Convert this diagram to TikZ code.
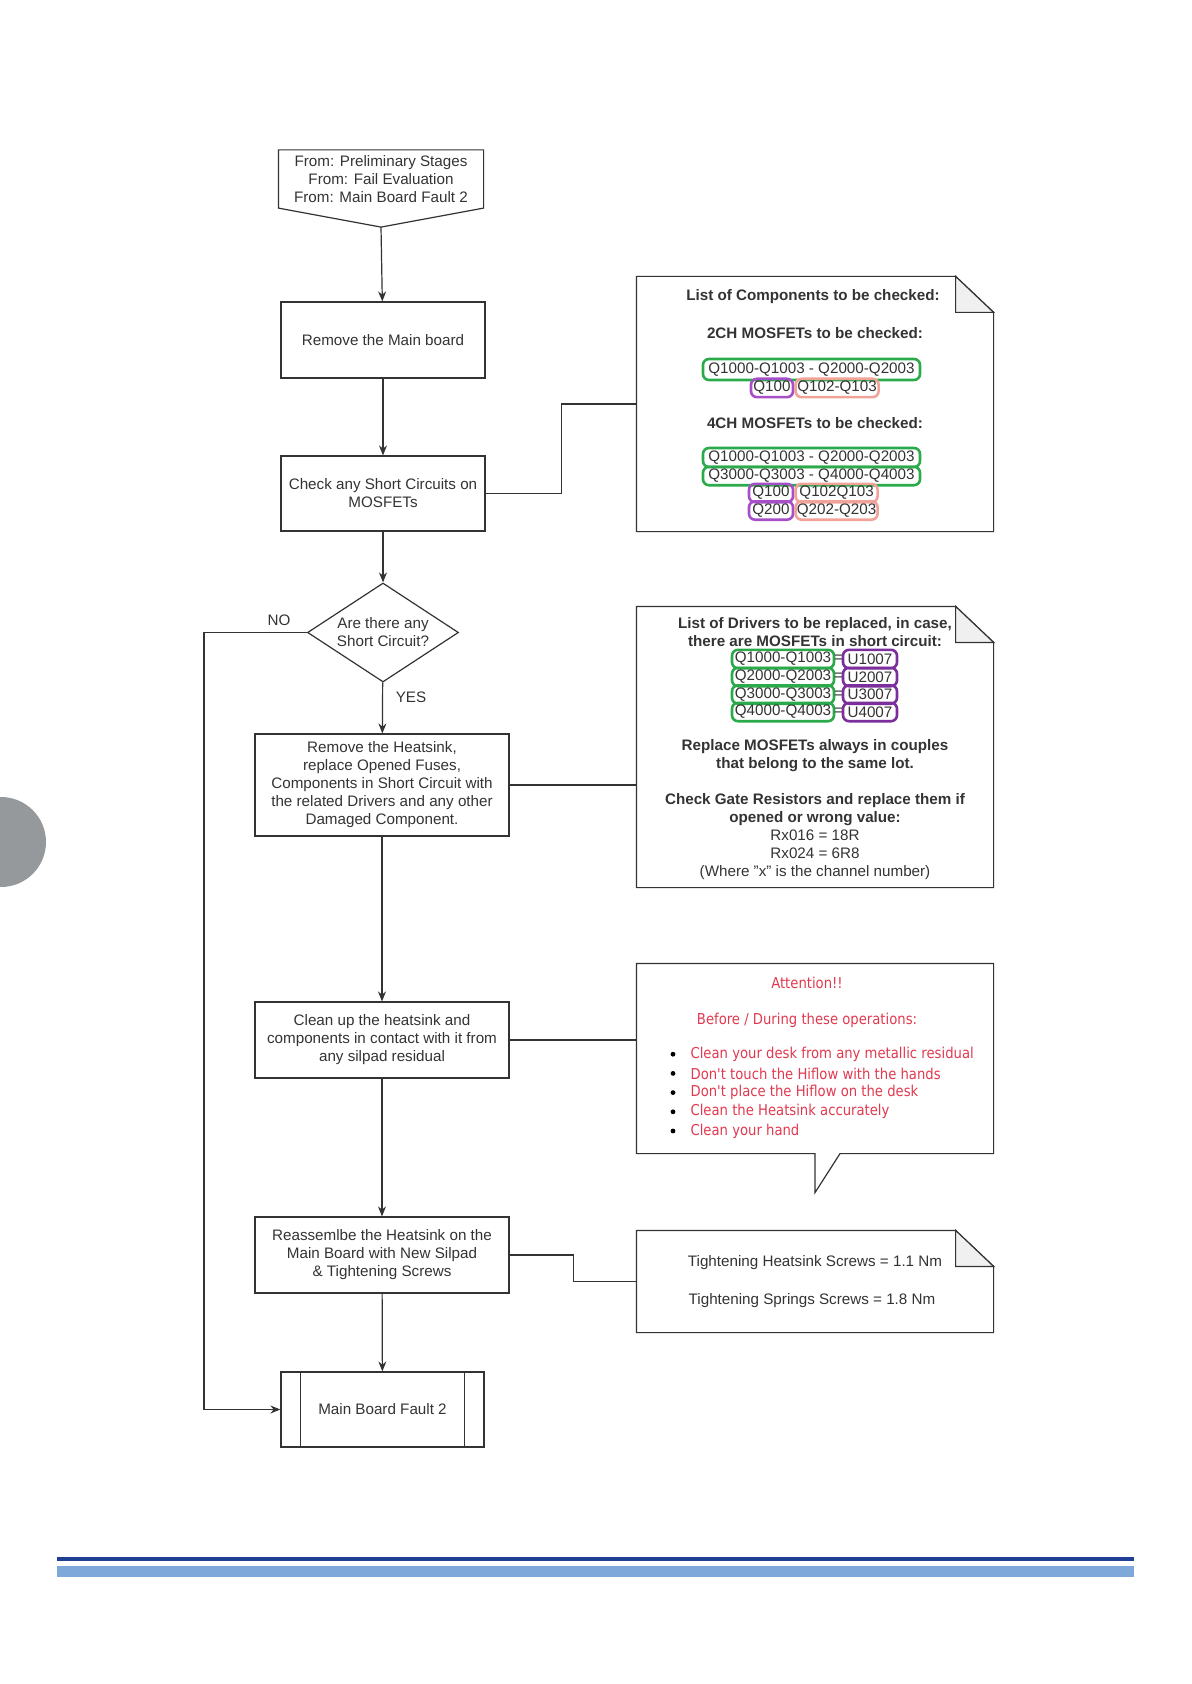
\documentclass[tikz,border=0pt]{standalone}
\usepackage{fontspec}
\setmainfont{Liberation Sans}
\newfontfamily\avisofont[FakeStretch=0.88]{DejaVu Sans}
\usetikzlibrary{shapes.geometric,positioning,arrows.meta}
\definecolor{gristexto}{HTML}{333333}
\definecolor{verde}{HTML}{2AAA4A}
\definecolor{morado}{HTML}{A64FC9}
\definecolor{moradooscuro}{HTML}{7B2E9C}
\definecolor{salmon}{HTML}{F2A399}
\definecolor{rojo}{HTML}{E0394F}
\definecolor{azuloscuro}{HTML}{1E3F94}
\definecolor{azulclaro}{HTML}{7EA8D9}
\definecolor{grismarca}{HTML}{95999C}
\begin{document}
\begin{tikzpicture}[   % opciones por defecto
      x=0.5pt, y=-0.5pt,     % un pixel de la hoja = 0.5pt
      >={Stealth[length=5pt,width=4pt]}, % estilo de flecha
      color=gristexto,       % lineas y texto gris oscuro
      line width=0.6pt,
      font=\fontsize{7.6}{9}\selectfont
    ]
    \tikzstyle{paso}=[draw, align=center, minimum height=38pt, inner sep=2pt];
    \tikzstyle{nota}=[minimum width=178pt, inner sep=0pt];
    \tikzstyle{titulo}=[align=center, font=\fontsize{7.6}{9}\selectfont\bfseries];
    \tikzstyle{lista}=[draw=verde, line width=1.3pt, rounded corners=3pt, inner sep=0pt, minimum height=9.2pt];
    \tikzstyle{rojo}=[text=rojo, font=\avisofont\fontsize{7.5}{9.6}\selectfont];
    %
    \useasboundingbox (0,0) rectangle (1191,1684);
    %
    % marca gris del margen
    \fill[grismarca] (1,842) circle (22.5pt);
    %
    % lineas azules del pie
    \fill[azuloscuro] (57,1557) rectangle (1134,1561);
    \fill[azulclaro] (57,1566) rectangle (1134,1577);
    %
    % conector de entrada
    \node [inner sep=0pt, minimum width=102pt, minimum height=28.5pt, align=center] (inicio) at (381,179)
      {From: Preliminary Stages\\From: Fail Evaluation\\From: Main Board Fault 2};
    \draw (inicio.north west) -- (inicio.north east) -- (inicio.south east)
      -- ([yshift=-9.5pt]inicio.south) -- (inicio.south west) -- cycle;
    \coordinate (punta) at ([yshift=-9.5pt]inicio.south);
    %
    % pasos
    \node [paso, minimum width=102pt] (placa) at (383,340) {Remove the Main board};
    \node [paso, minimum width=102pt, minimum height=37.5pt] (corto) at (383,493.5) {Check any Short Circuits on\\MOSFETs};
    \node [draw, diamond, aspect=1.5, minimum width=75.5pt, minimum height=49.5pt, inner sep=0pt, align=center]
      (decision) at (383,632.5) {Are there any\\Short Circuit?};
    \node [paso, minimum width=127pt, minimum height=51pt] (disipador) at (382,785)
      {Remove the Heatsink,\\replace Opened Fuses,\\Components in Short Circuit with\\the related Drivers and any other\\Damaged Component.};
    \node [paso, minimum width=127pt] (limpieza) at (382,1040)
      {Clean up the heatsink and\\components in contact with it from\\any silpad residual};
    \node [paso, minimum width=127pt] (montaje) at (382,1255)
      {Reassemlbe the Heatsink on the\\Main Board with New Silpad\\\& Tightening Screws};
    \node [paso, minimum width=101.5pt, minimum height=37.5pt] (fin) at (382.5,1409.5) {Main Board Fault 2};
    \draw ([xshift=10pt]fin.north west) -- ([xshift=10pt]fin.south west);
    \draw ([xshift=-10pt]fin.north east) -- ([xshift=-10pt]fin.south east);
    %
    % flechas del flujo
    \draw[->] (punta) -- (placa);
    \draw[->] (placa) -- (corto);
    \draw[->] (corto) -- (decision);
    \draw[->] (decision) -- (disipador) node [pos=0.3, right=3pt] {YES};
    \draw[->] (disipador) -- (limpieza);
    \draw[->] (limpieza) -- (montaje);
    \draw[->] (montaje) -- (fin);
    \draw[->] (decision.west) -- ++(-103,0) node [pos=0.27, above] {NO} |- (fin.west);
    %
    % notas
    \node [nota, minimum height=127pt] (componentes) at (815,404) {};
    \node [nota, minimum height=140pt] (drivers) at (815,747) {};
    \node [nota, minimum height=94.5pt] (aviso) at (815,1058.5) {};
    \node [nota, minimum height=50.5pt] (apriete) at (815,1281.5) {};
    \foreach \n in {componentes,drivers,apriete} {
      \draw (\n.north west) -- ([xshift=-19pt]\n.north east) -- ([yshift=-18pt]\n.north east)
        -- (\n.south east) -- (\n.south west) -- cycle;
      \draw[fill=gray!12] ([xshift=-19pt]\n.north east) -- ([xshift=-19pt,yshift=-18pt]\n.north east)
        -- ([yshift=-18pt]\n.north east) -- cycle;
    }
    \draw (aviso.north west) -- (aviso.north east) -- (aviso.south east) -- ([xshift=12.5pt]aviso.south)
      -- ([yshift=-19.5pt]aviso.south) -- (aviso.south) -- (aviso.south west) -- cycle;
    %
    % lineas a las notas
    \draw (corto.east) -- ++(76,0) |- (componentes.west);
    \draw (disipador.east) -- (disipador.east -| drivers.west);
    \draw (limpieza.east) -- (limpieza.east -| aviso.west);
    \draw (montaje.east) -- ++(64,0) |- (apriete.west);
    %
    % lista de componentes
    \node [titulo] (tit1) at (813,297) {List of Components to be checked:};
    \node [titulo] (ch2) at (815,333) {2CH MOSFETs to be checked:};
    \node [lista, minimum width=108.5pt, minimum height=10.5pt] (g1) at (811.5,369.5) {Q1000-Q1003 - Q2000-Q2003};
    \node [lista, draw=morado, minimum width=21pt] (p1) at (772,388) {Q100};
    \node [lista, draw=salmon, minimum width=41.5pt, right=0pt of p1] (s1) {Q102-Q103};
    \node [titulo] (ch4) at (815,423) {4CH MOSFETs to be checked:};
    \node [lista, minimum width=108.5pt, minimum height=9.5pt] (g2) at (811.5,457.5) {Q1000-Q1003 - Q2000-Q2003};
    \node [lista, minimum width=108.5pt] (g3) at (811.5,476) {Q3000-Q3003 - Q4000-Q4003};
    \node [lista, draw=morado, minimum width=22pt] (p2) at (771,493) {Q100};
    \node [lista, draw=salmon, minimum width=41pt, right=0pt of p2] (s2) {Q102Q103};
    \node [lista, draw=morado, minimum width=22pt] (p3) at (771,510.5) {Q200};
    \node [lista, draw=salmon, minimum width=41pt, right=0pt of p3] (s3) {Q202-Q203};
    %
    % lista de drivers
    \node [titulo] (tit2) at (815,632) {List of Drivers to be replaced, in case,\\there are MOSFETs in short circuit:};
    \foreach \i/\y in {1/659,2/677,3/694.5,4/712} {
      \node [lista, minimum width=51pt] (q\i) at (783,\y) {Q\i000-Q\i003};
      \node [inner sep=0pt] (igual\i) at (838.5,\y) {=};
      \node [lista, draw=moradooscuro, minimum width=27pt] (u\i) at (870,\y) {U\i007};
    }
    \node [titulo] (lote) at (815,755.5) {Replace MOSFETs always in couples\\that belong to the same lot.};
    \node [titulo] (resist) at (815,810) {Check Gate Resistors and replace them if\\opened or wrong value:};
    \node [align=center] (valores) at (815,855) {Rx016 = 18R\\Rx024 = 6R8\\(Where "x" is the channel number)};
    %
    % avisos en rojo
    \node [rojo] (atencion) at (807,983) {Attention!!};
    \node [rojo] (antes) at (807,1020) {Before / During these operations:};
    \foreach \t [count=\i] in {Clean your desk from any metallic residual,
        Don't touch the Hiflow with the hands,
        Don't place the Hiflow on the desk,
        Clean the Heatsink accurately,
        Clean your hand} {
      \node [rojo, anchor=west, inner sep=0pt] (punto\i) at (690,1035+19.2*\i) {\t};
      \fill[black] (673,1035+19.2*\i) circle (1.2pt);
    }
    %
    % pares de apriete
    \node (par1) at (815,1263) {Tightening Heatsink Screws = 1.1 Nm};
    \node (par2) at (812,1301) {Tightening Springs Screws = 1.8 Nm};
  \end{tikzpicture}
\end{document}
